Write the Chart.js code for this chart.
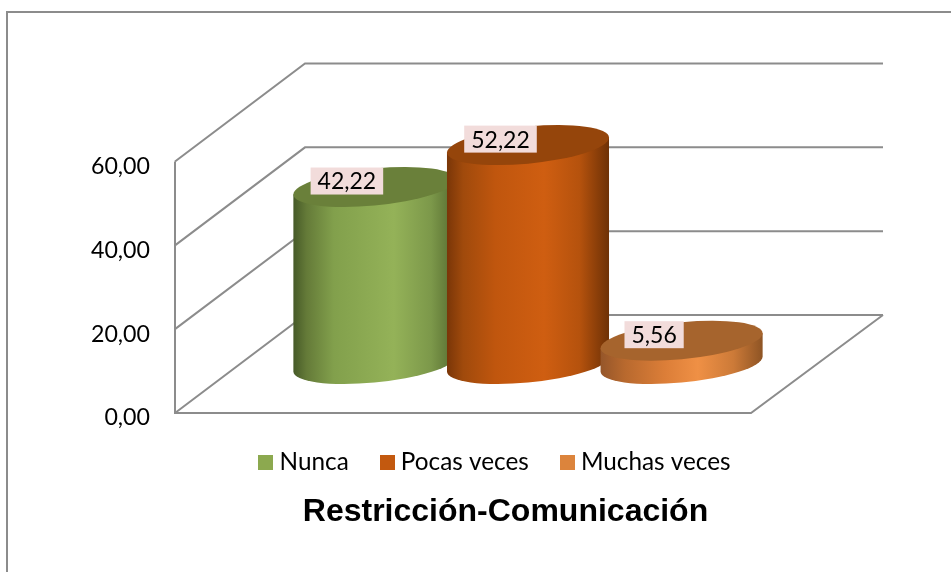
<!DOCTYPE html>
<html><head><meta charset="utf-8">
<style>html,body{margin:0;padding:0;background:#fff}canvas{display:block}</style>
<script src="https://cdn.jsdelivr.net/npm/chart.js@4"></script>
</head><body><canvas id="c" width="951" height="572"></canvas>
<script>
const categories = ['Restricción-Comunicación'];
const seriesNames = ['Nunca', 'Pocas veces', 'Muchas veces'];
const nunca = [42.22];
const pocasVeces = [52.22];
const muchasVeces = [5.56];
const valueLabels = ['42,22', '52,22', '5,56'];
const tickLabels = ['0,00', '20,00', '40,00', '60,00'];
const titleText = 'Restricción-Comunicación';

const DEPTH_X = 130, DEPTH_Y = 98;
const GRID = '#8c8c8c';
const styles = [
  {swatch:'#8ca94f', top:'#6a803a', stops:[[0,'#465a28'],[.08,'#647a38'],[.25,'#82a04c'],[.62,'#94b258'],[.85,'#7c984a'],[1,'#566c30']]},
  {swatch:'#c3590f', top:'#95450b', stops:[[0,'#7a3608'],[.1,'#a04a0c'],[.3,'#c0560e'],[.6,'#cf5e11'],[.82,'#b5520d'],[1,'#6e3106']]},
  {swatch:'#dc843c', top:'#a6642d', stops:[[0,'#95562a'],[.15,'#b8692e'],[.4,'#dc7e38'],[.6,'#ef9045'],[.82,'#cc7a38'],[1,'#8e5424']]}
];

function swatchImage(color){
  const c = document.createElement('canvas');
  c.width = 15; c.height = 15;
  const g = c.getContext('2d');
  g.fillStyle = color; g.fillRect(0,0,15,15);
  return c;
}

function drawCylinder(ctx, cx, topY, baseY, a, st){
  const k = -7.5/81, ry = 18.54;
  ctx.save();
  ctx.translate(cx, 0);
  const grad = ctx.createLinearGradient(-a,0,a,0);
  st.stops.forEach(s=>grad.addColorStop(s[0],s[1]));
  ctx.save();
  ctx.translate(0, baseY);
  ctx.transform(1,k,0,1,0,0);
  const h = baseY-topY;
  ctx.beginPath();
  ctx.moveTo(-a,-h);
  ctx.lineTo(-a,0);
  ctx.ellipse(0,0,a,ry,0,Math.PI,0,true);
  ctx.lineTo(a,-h);
  ctx.closePath();
  ctx.fillStyle = grad;
  ctx.fill();
  ctx.beginPath();
  ctx.ellipse(0,-h,a,ry,0,0,Math.PI*2);
  ctx.fillStyle = st.top;
  ctx.fill();
  ctx.restore();
  ctx.restore();
}

const scenePlugin = {
  id:'scene',
  beforeDraw(chart){
    const ctx = chart.ctx;
    ctx.save();
    ctx.strokeStyle = GRID; ctx.lineWidth = 2;
    ctx.beginPath();
    ctx.moveTo(7,572); ctx.lineTo(7,12); ctx.lineTo(951,12);
    ctx.stroke();
    ctx.restore();
  },
  afterLayout(chart){
    chart.legend.left = 0; chart.legend.right = 995; chart.legend.width = 995;
    chart.legend.top = 413;
    chart.titleBlock.left = 0; chart.titleBlock.right = 1011; chart.titleBlock.width = 1011;
    chart.titleBlock.top = 493;
    chart.titleBlock.bottom = 493 + chart.titleBlock.height;
  },
  beforeDatasetsDraw(chart){
    const ctx = chart.ctx, y = chart.scales.y, area = chart.chartArea;
    ctx.save();
    ctx.strokeStyle = GRID; ctx.lineWidth = 2; ctx.lineJoin='miter';
    y.ticks.forEach(t=>{
      const py = y.getPixelForValue(t.value);
      ctx.beginPath();
      ctx.moveTo(area.left, py);
      ctx.lineTo(area.left+DEPTH_X, py-DEPTH_Y);
      ctx.lineTo(883, py-DEPTH_Y);
      ctx.stroke();
    });
    const y0 = y.getPixelForValue(0), yMax = y.getPixelForValue(y.max);
    ctx.beginPath();
    ctx.moveTo(area.left, yMax);
    ctx.lineTo(area.left, y0);
    ctx.lineTo(area.right, y0);
    ctx.lineTo(883, y0-DEPTH_Y);
    ctx.stroke();
    ctx.restore();
    chart.data.datasets.forEach((d,i)=>{
      const el = chart.getDatasetMeta(i).data[0];
      drawCylinder(ctx, el.x + DEPTH_X/2, el.y-DEPTH_Y/2, y.getPixelForValue(0)-DEPTH_Y/2, el.width/2, styles[i]);
    });
  },
  beforeDatasetDraw(){ return false; },
  afterDatasetsDraw(chart){
    const ctx = chart.ctx;
    ctx.save();
    ctx.font = '23px Lato';
    ctx.textAlign='center'; ctx.textBaseline='middle';
    chart.data.datasets.forEach((d,i)=>{
      const el = chart.getDatasetMeta(i).data[0];
      const x = el.x + DEPTH_X/2 - 27.5, yy = el.y - DEPTH_Y/2 - 6;
      const txt = valueLabels[i];
      const w = ctx.measureText(txt).width + 14;
      ctx.fillStyle = '#f2dcdb';
      ctx.fillRect(x-w/2, yy-13.5, w, 27);
      ctx.fillStyle = '#000';
      ctx.fillText(txt, x, yy+1);
    });
    ctx.restore();
  }
};

const seriesData = [nunca, pocasVeces, muchasVeces];
new Chart(document.getElementById('c'), {
  type:'bar',
  plugins:[scenePlugin],
  data:{
    labels:categories,
    datasets:seriesNames.map((n,i)=>({
      label:n, data:seriesData[i],
      backgroundColor:styles[i].swatch,
      categoryPercentage:0.8, barPercentage:1.055
    }))
  },
  options:{
    responsive:false, animation:false,
    layout:{autoPadding:false, padding:{left:6,right:200,top:161.5,bottom:49.3}},
    plugins:{
      tooltip:{enabled:false},
      legend:{position:'bottom',labels:{
        font:{family:'Lato',size:24.3},color:'#000',usePointStyle:true,boxWidth:15,pointStyleWidth:3,padding:37,
        generateLabels(chart){
          return Chart.defaults.plugins.legend.labels.generateLabels(chart).map((it,i)=>{
            it.pointStyle = swatchImage(styles[i].swatch); it.lineWidth = 0; return it;
          });
        }
      }},
      title:{display:true,position:'bottom',text:titleText,color:'#000',padding:0,font:{family:'"Liberation Sans"',size:32,weight:'bold'}}
    },
    scales:{
      x:{display:false},
      y:{
        min:0,max:60,
        afterFit(s){s.width=169;},
        grid:{display:false},border:{display:false},
        ticks:{stepSize:20,padding:17,labelOffset:5,color:'#000',font:{family:'Lato',size:23.2},
          callback(v){return tickLabels[v/20];}}
      }
    }
  }
});
</script></body></html>
